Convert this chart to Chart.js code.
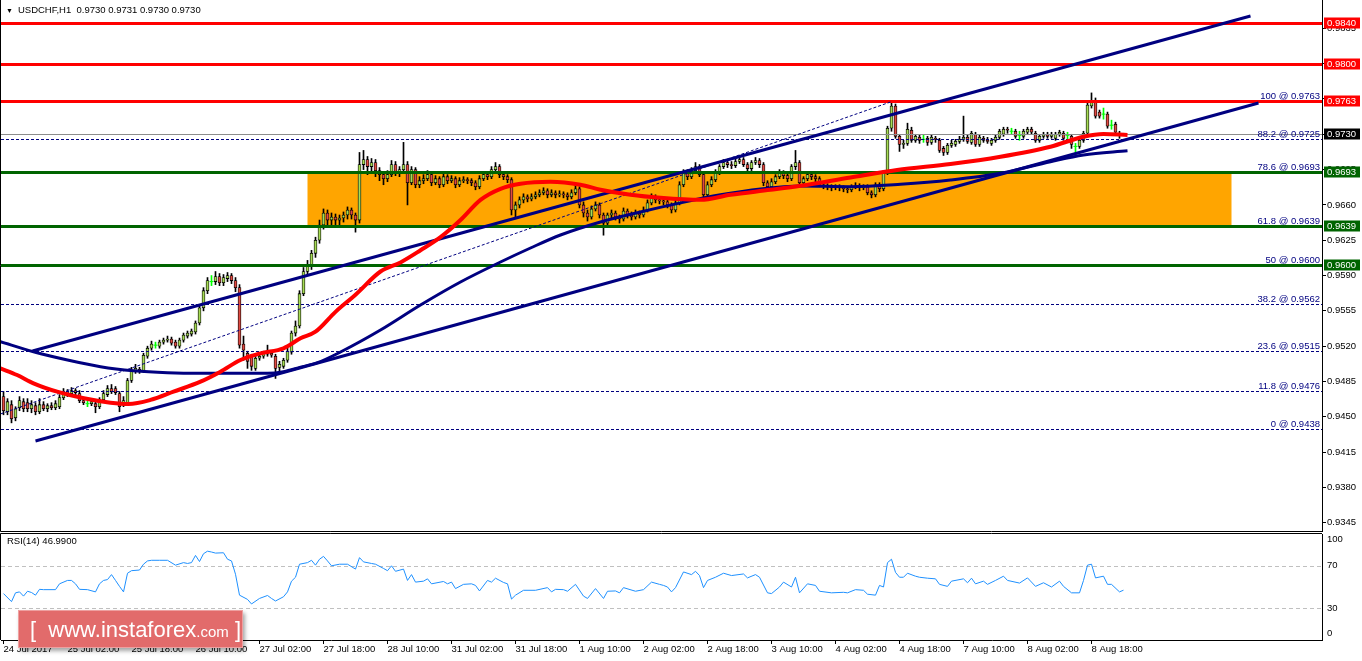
<!DOCTYPE html>
<html>
<head>
<meta charset="utf-8">
<script src="https://cdn.jsdelivr.net/npm/chart.js@4.4.1/dist/chart.umd.min.js"></script>
<style>
  html, body { margin: 0; padding: 0; background: #fff; }
  #wrap { position: relative; width: 1362px; height: 661px; overflow: hidden; font-family: "Liberation Sans", Arial, sans-serif; }
  #price { position: absolute; left: 0; top: 0; }
  #rsi { position: absolute; left: 0; top: 532px; }
  #title { position: absolute; left: 6px; top: 4px; font-size: 9.5px; color: #000; white-space: pre; }
  #title span { font-size: 7px; margin-right: 5px; }
  #watermark {
    position: absolute; left: 18px; top: 610px; width: 225px; height: 38px;
    background: #e26b6b; border: 1px solid #eea0a0; box-shadow: 2px 3px 4px rgba(0,0,0,0.35);
    color: #fff; font-size: 22px; line-height: 38px; white-space: pre; box-sizing: border-box; padding-left: 11px;
  }
  #watermark small { font-size: 15px; }
</style>
</head>
<body>
<div id="wrap">
  <canvas id="price" width="1362" height="532"></canvas>
  <canvas id="rsi" width="1362" height="129"></canvas>
  <div id="title"><span>&#9660;</span>USDCHF,H1  0.9730 0.9731 0.9730 0.9730</div>
  <div id="watermark">[  www.instaforex<small>.com</small> ]</div>
</div>
<script>
// ---------------------------------------------------------------------------
// Data (bar index 0 = 24 Jul 10:00)
// ---------------------------------------------------------------------------
const opens = [
  .9470,.9455,.9462,.9449,.9459,.9465,.9464,.9458,.9461,.9455,
  .9462,.9458,.9461,.9459,.9460,.9469,.9475,.9473,.9476,.9473,
  .9466,.9463,.9463,.9463,.9460,.9467,.9472,.9478,.9478,.9473,
  .9462,.9464,.9486,.9496,.9497,.9496,.9510,.9518,.9521,.9520,
  .9524,.9526,.9527,.9524,.9520,.9526,.9530,.9532,.9534,.9543,
  .9558,.9575,.9584,.9584,.9589,.9583,.9587,.9590,.9585,.9578,
  .9522,.9513,.9510,.9498,.9508,.9510,.9512,.9513,.9510,.9499,
  .9500,.9506,.9514,.9533,.9540,.9572,.9594,.9600,.9612,.9625,
  .9640,.9652,.9645,.9648,.9645,.9647,.9650,.9655,.9650,.9645,
  .9700,.9705,.9698,.9702,.9694,.9690,.9686,.9690,.9700,.9692,
  .9695,.9700,.9682,.9695,.9680,.9684,.9686,.9690,.9682,.9686,
  .9680,.9688,.9684,.9686,.9680,.9684,.9685,.9684,.9682,.9678,
  .9686,.9690,.9688,.9695,.9698,.9690,.9688,.9685,.9655,.9660,
  .9665,.9668,.9666,.9668,.9670,.9672,.9674,.9670,.9672,.9670,
  .9671,.9670,.9668,.9672,.9676,.9660,.9652,.9648,.9656,.9660,
  .9650,.9642,.9650,.9652,.9648,.9646,.9654,.9650,.9648,.9652,
  .9650,.9655,.9662,.9668,.9665,.9664,.9663,.9660,.9655,.9662,
  .9680,.9692,.9688,.9694,.9698,.9690,.9670,.9680,.9685,.9692,
  .9698,.9702,.9700,.9699,.9703,.9705,.9700,.9696,.9702,.9704,
  .9700,.9682,.9678,.9683,.9688,.9692,.9689,.9686,.9698,.9702,
  .9682,.9686,.9690,.9688,.9686,.9680,.9679,.9678,.9677,.9678,
  .9677,.9676,.9675,.9678,.9679,.9677,.9678,.9672,.9670,.9680,
  .9676,.9692,.9736,.9758,.9728,.9720,.9721,.9734,.9724,.9727,
  .9725,.9726,.9722,.9726,.9724,.9716,.9712,.9719,.9720,.9723,
  .9725,.9727,.9722,.9730,.9720,.9726,.9724,.9721,.9724,.9727,
  .9730,.9735,.9733,.9733,.9729,.9728,.9732,.9735,.9731,.9724,
  .9728,.9730,.9728,.9726,.9730,.9731,.9729,.9728,.9718,.9718,
  .9724,.9731,.9758,.9762,.9752,.9750,.9750,.9739,.9740,.9731,.9730
];
const highs = [
  .9475,.9468,.9466,.9460,.9470,.9468,.9468,.9466,.9464,.9468,
  .9465,.9463,.9464,.9466,.9472,.9478,.9477,.9479,.9478,.9476,
  .9468,.9466,.9467,.9465,.9469,.9476,.9481,.9482,.9480,.9475,
  .9470,.9488,.9499,.9502,.9499,.9513,.9520,.9525,.9524,.9526,
  .9528,.9530,.9529,.9526,.9528,.9533,.9535,.9537,.9545,.9561,
  .9578,.9588,.9590,.9594,.9592,.9591,.9593,.9592,.9588,.9581,
  .9530,.9515,.9512,.9510,.9513,.9515,.9521,.9515,.9512,.9505,
  .9508,.9518,.9535,.9545,.9575,.9598,.9605,.9615,.9628,.9645,
  .9656,.9655,.9652,.9651,.9650,.9653,.9658,.9657,.9652,.9712,
  .9714,.9708,.9706,.9705,.9697,.9693,.9694,.9704,.9703,.9698,
  .9722,.9703,.9698,.9697,.9688,.9690,.9694,.9692,.9689,.9688,
  .9691,.9690,.9689,.9688,.9687,.9688,.9687,.9686,.9684,.9689,
  .9693,.9692,.9698,.9702,.9700,.9692,.9690,.9687,.9663,.9668,
  .9671,.9670,.9671,.9673,.9675,.9677,.9676,.9675,.9674,.9674,
  .9673,.9672,.9675,.9680,.9678,.9663,.9655,.9659,.9663,.9662,
  .9652,.9652,.9655,.9654,.9650,.9657,.9656,.9653,.9655,.9654,
  .9658,.9665,.9671,.9670,.9668,.9667,.9665,.9662,.9665,.9683,
  .9695,.9695,.9697,.9702,.9700,.9692,.9683,.9688,.9695,.9700,
  .9705,.9705,.9703,.9706,.9708,.9707,.9702,.9704,.9707,.9706,
  .9702,.9684,.9686,.9690,.9695,.9694,.9691,.9700,.9714,.9704,
  .9688,.9693,.9692,.9690,.9688,.9682,.9681,.9680,.9680,.9680,
  .9679,.9678,.9680,.9682,.9681,.9680,.9680,.9674,.9682,.9682,
  .9694,.9738,.9763,.9760,.9730,.9724,.9741,.9737,.9730,.9729,
  .9729,.9728,.9729,.9728,.9726,.9718,.9721,.9724,.9725,.9728,
  .9748,.9729,.9733,.9732,.9729,.9728,.9727,.9726,.9729,.9735,
  .9737,.9737,.9736,.9735,.9733,.9735,.9737,.9737,.9733,.9730,
  .9732,.9732,.9732,.9732,.9734,.9733,.9732,.9730,.9721,.9726,
  .9733,.9761,.9771,.9766,.9754,.9756,.9752,.9744,.9742,.9733,.9731
];
const lows = [
  .9452,.9452,.9444,.9446,.9456,.9455,.9455,.9454,.9452,.9453,
  .9456,.9455,.9457,.9457,.9458,.9467,.9470,.9470,.9471,.9464,
  .9462,.9460,.9461,.9454,.9458,.9465,.9470,.9473,.9472,.9455,
  .9460,.9462,.9484,.9493,.9493,.9494,.9508,.9516,.9518,.9518,
  .9522,.9524,.9521,.9518,.9518,.9524,.9528,.9530,.9532,.9541,
  .9555,.9572,.9580,.9581,.9580,.9580,.9584,.9582,.9574,.9518,
  .9506,.9498,.9496,.9496,.9506,.9508,.9510,.9509,.9488,.9495,
  .9498,.9504,.9512,.9530,.9538,.9570,.9590,.9596,.9608,.9622,
  .9636,.9640,.9640,.9638,.9640,.9643,.9646,.9646,.9633,.9642,
  .9695,.9690,.9692,.9688,.9684,.9680,.9683,.9688,.9689,.9688,
  .9692,.9660,.9680,.9677,.9677,.9681,.9684,.9679,.9680,.9677,
  .9678,.9681,.9682,.9677,.9678,.9682,.9681,.9679,.9675,.9676,
  .9684,.9685,.9686,.9692,.9687,.9685,.9682,.9650,.9648,.9657,
  .9662,.9663,.9664,.9666,.9668,.9670,.9667,.9668,.9667,.9668,
  .9667,.9665,.9666,.9670,.9657,.9648,.9644,.9646,.9654,.9647,
  .9630,.9640,.9647,.9645,.9642,.9644,.9647,.9645,.9646,.9647,
  .9648,.9653,.9660,.9662,.9661,.9660,.9657,.9652,.9653,.9660,
  .9678,.9685,.9686,.9692,.9688,.9666,.9668,.9678,.9683,.9690,
  .9696,.9697,.9696,.9697,.9701,.9698,.9693,.9694,.9700,.9697,
  .9679,.9674,.9676,.9681,.9686,.9686,.9683,.9684,.9695,.9679,
  .9680,.9684,.9685,.9683,.9678,.9676,.9675,.9674,.9675,.9674,
  .9673,.9672,.9673,.9676,.9674,.9675,.9670,.9667,.9668,.9673,
  .9674,.9690,.9733,.9726,.9713,.9716,.9719,.9722,.9722,.9721,
  .9722,.9719,.9720,.9722,.9712,.9709,.9710,.9717,.9718,.9721,
  .9723,.9721,.9720,.9718,.9718,.9722,.9721,.9719,.9722,.9725,
  .9728,.9731,.9730,.9726,.9724,.9726,.9730,.9730,.9722,.9722,
  .9726,.9726,.9726,.9724,.9728,.9724,.9725,.9716,.9711,.9716,
  .9722,.9729,.9756,.9746,.9746,.9745,.9736,.9735,.9730,.9726,.9730
];
const closes = [
  .9456,.9465,.9448,.9458,.9466,.9458,.9458,.9462,.9455,.9462,
  .9458,.9461,.9459,.9463,.9469,.9475,.9473,.9476,.9474,.9466,
  .9464,.9463,.9465,.9460,.9467,.9473,.9478,.9475,.9474,.9460,
  .9466,.9486,.9496,.9498,.9495,.9511,.9518,.9522,.9521,.9524,
  .9526,.9527,.9523,.9520,.9526,.9531,.9533,.9535,.9543,.9558,
  .9575,.9585,.9584,.9589,.9583,.9588,.9590,.9585,.9578,.9521,
  .9516,.9505,.9500,.9508,.9510,.9513,.9514,.9511,.9498,.9502,
  .9506,.9515,.9533,.9540,.9572,.9594,.9600,.9612,.9625,.9640,
  .9652,.9645,.9648,.9645,.9647,.9650,.9655,.9650,.9645,.9700,
  .9705,.9698,.9702,.9694,.9690,.9686,.9690,.9700,.9692,.9695,
  .9700,.9682,.9695,.9680,.9684,.9686,.9690,.9682,.9686,.9680,
  .9688,.9684,.9686,.9680,.9684,.9685,.9684,.9682,.9678,.9686,
  .9690,.9688,.9695,.9698,.9690,.9688,.9685,.9655,.9660,.9665,
  .9668,.9666,.9668,.9670,.9672,.9674,.9670,.9672,.9670,.9671,
  .9670,.9668,.9672,.9676,.9660,.9652,.9648,.9656,.9660,.9650,
  .9642,.9650,.9652,.9648,.9646,.9654,.9650,.9648,.9652,.9650,
  .9655,.9662,.9668,.9665,.9664,.9663,.9660,.9655,.9662,.9680,
  .9692,.9688,.9694,.9698,.9690,.9670,.9680,.9685,.9692,.9698,
  .9702,.9700,.9699,.9703,.9705,.9700,.9696,.9702,.9704,.9700,
  .9682,.9678,.9683,.9688,.9692,.9689,.9686,.9698,.9702,.9682,
  .9686,.9690,.9688,.9686,.9680,.9679,.9678,.9677,.9678,.9677,
  .9676,.9675,.9678,.9679,.9677,.9678,.9672,.9670,.9680,.9676,
  .9692,.9736,.9758,.9728,.9720,.9721,.9735,.9724,.9728,.9724,
  .9725,.9722,.9727,.9725,.9714,.9712,.9719,.9721,.9723,.9725,
  .9727,.9723,.9731,.9720,.9727,.9724,.9723,.9724,.9727,.9733,
  .9735,.9734,.9733,.9728,.9729,.9733,.9735,.9732,.9724,.9728,
  .9730,.9728,.9730,.9730,.9732,.9726,.9729,.9720,.9718,.9724,
  .9731,.9759,.9762,.9748,.9748,.9750,.9738,.9739,.9732,.9730,.9730
];

// moving averages, sampled along the drawn curves
const redMaIdx = [-0.75, 3.4, 7.5, 13.4, 20.1, 26.75, 31.25, 36.75, 42.5, 49.25, 54.25, 59.25, 64.25, 70, 74.25, 78, 83, 88, 94.25, 99.25, 104.25, 109.25, 114.25, 119.25, 124.25, 129.25, 136.75, 144.25, 149.25, 156.75, 164.25, 174.25, 181.75, 191.75, 199.25, 211.75, 223.4, 236.75, 249.25, 261.75, 270, 275, 281];
const redMaVal = [.94980, .94914, .94832, .94749, .94683, .94640, .94627, .94667, .94749, .94848, .94947, .95063, .95129, .95179, .95278, .95343, .9554, .9571, .9594, .9603, .9615, .9628, .9645, .9665, .9676, .9681, .9683, .9680, .9675, .9670, .9667, .9665, .9670, .9675, .9679, .96872, .96946, .97006, .97078, .97177, .97276, .97303, .97293];
const navyMaIdx = [-0.75, 7.5, 16, 24.25, 32.5, 41, 49.25, 57.5, 66, 70, 74.25, 78.5, 84.25, 94.25, 104.25, 114.25, 124.25, 131.75, 139.25, 149.25, 159.25, 169.25, 179.25, 189.25, 199.25, 211.75, 224.25, 236.75, 249.25, 261.75, 270, 281];
const navyMaVal = [.95244, .95145, .95063, .94997, .94957, .94937, .94931, .94931, .94931, .94947, .94991, .95036, .95142, .95360, .95608, .95836, .96034, .96173, .96302, .96431, .96530, .96620, .96700, .96759, .96788, .96781, .96805, .96847, .96913, .97028, .97095, .97137];

// hand drawn objects
const upperChannel = [{ x: 7.25, y: 0.95152 }, { x: 311.75, y: 0.98472 }];
const lowerChannel = [{ x: 8, y: 0.94260 }, { x: 313.75, y: 0.97610 }];
const fibDiagonal = [{ x: -0.75, y: 0.94528 }, { x: 221.75, y: 0.9762 }];
const fibLevels = [0, 11.8, 23.6, 38.2, 50, 61.8, 78.6, 88.2, 100];
const fibPrices = [0.9438, 0.9476, 0.9515, 0.9562, 0.9600, 0.9639, 0.9693, 0.9725, 0.9763];
const redLevels = [0.9840, 0.9800, 0.9763];
const greenLevels = [0.9693, 0.9639, 0.9600];
const bidPrice = 0.9730;
const zoneFrom = 76, zoneTo = 307, zoneHigh = 0.9693, zoneLow = 0.9639;

// RSI(14), sampled along the drawn line
const rsiIdx = [0, 2, 3, 4, 5, 6, 7, 8, 9, 10, 13, 14, 16, 17, 18, 19, 21, 23, 24, 25, 26, 27, 28, 29, 30, 31, 32, 34, 35, 36, 37, 39, 41, 43, 45, 46, 47, 48, 49, 50, 51, 52, 53, 55, 56, 57, 58, 59, 61, 62, 64, 66, 67, 68, 70, 71, 72, 73, 74, 76, 77, 78, 79, 80, 81, 82, 84, 86, 88, 89, 90, 92, 93, 95, 96, 97, 98, 100, 101, 102, 103, 105, 106, 107, 110, 111, 112, 113, 115, 117, 118, 119, 121, 122, 123, 125, 126, 127, 128, 130, 133, 136, 137, 138, 140, 141, 143, 145, 146, 148, 150, 151, 153, 154, 155, 158, 160, 162, 164, 165, 166, 167, 168, 170, 172, 173, 174, 175, 176, 178, 180, 182, 185, 186, 188, 189, 191, 192, 194, 195, 197, 198, 199, 201, 203, 204, 207, 210, 211, 213, 215, 216, 218, 219, 220, 221, 222, 223, 224, 225, 226, 228, 229, 231, 233, 234, 236, 237, 240, 241, 242, 243, 245, 246, 248, 250, 251, 254, 256, 258, 260, 262, 264, 265, 267, 269, 270, 271, 272, 273, 275, 276, 277, 279, 280];
const rsiVal = [43.8, 36.2, 44.5, 45.4, 41.4, 46, 44.8, 42.3, 47.8, 47.5, 47.5, 53, 56.2, 56.2, 53, 47.8, 47.5, 45.4, 53, 56.2, 57, 61.7, 56.2, 50.6, 45.4, 63, 65.4, 66, 71.5, 74.6, 75.2, 75.2, 75.2, 70.6, 73, 72.2, 73, 79.8, 74, 81.4, 83.8, 83, 82, 82.3, 76.2, 74.6, 62, 42.3, 38.3, 34, 39.2, 42, 39.2, 36.8, 40.8, 45.4, 55.5, 59.2, 71.5, 73, 75.2, 70.6, 76.2, 78.9, 74.6, 70, 71.5, 71.5, 66.9, 77.7, 73.7, 72.2, 71.5, 67.5, 65.4, 70, 64.8, 66.9, 56.2, 61.7, 54.6, 55.5, 57.7, 53, 55.2, 53, 54.6, 48.5, 52.5, 53, 51.5, 46.3, 56.2, 54.6, 58.3, 54.3, 53, 38.6, 42.3, 46.9, 46.9, 49.4, 45.4, 47.8, 47.5, 46, 52.5, 41.4, 39.2, 48.5, 39.2, 46, 46.3, 44.5, 49.4, 46, 47.5, 54.6, 52.5, 51.5, 50, 45.4, 49.4, 64.2, 61.7, 64.8, 60.8, 49.4, 56.2, 59.2, 63, 60.8, 62.3, 58.6, 61.7, 59.2, 44.5, 43.8, 50, 54.6, 50, 59.2, 44.5, 53, 51.5, 46, 44.5, 45, 44.5, 47.5, 46.9, 43.2, 42.3, 51.5, 50, 73, 76.2, 63.8, 59.2, 59.2, 63, 60.2, 59.2, 58.3, 57.7, 52.5, 50.6, 55.5, 57.7, 54, 58.3, 53, 55.5, 52.5, 56.2, 60.2, 56.2, 53.7, 58.6, 50.6, 54, 50, 55.5, 50.6, 44.5, 44.5, 56.2, 70.6, 71.5, 58.6, 60.2, 52.5, 52.5, 45.4, 47.0];
const rsiLevels = [30, 70];
const rsiTicks = [0, 30, 70, 100];

// axes
const priceTicks = [0.9345, 0.9380, 0.9415, 0.9450, 0.9485, 0.9520, 0.9555, 0.9590, 0.9625, 0.9660, 0.9695, 0.9730, 0.9765, 0.9800, 0.9835];
const timeTickIdx = [0, 16, 32, 48, 64, 80, 96, 112, 128, 144, 160, 176, 192, 208, 224, 240, 256, 272];
const timeLabels = ['24 Jul 2017', '25 Jul 02:00', '25 Jul 18:00', '26 Jul 10:00', '27 Jul 02:00', '27 Jul 18:00', '28 Jul 10:00', '31 Jul 02:00', '31 Jul 18:00', '1 Aug 10:00', '2 Aug 02:00', '2 Aug 18:00', '3 Aug 10:00', '4 Aug 02:00', '4 Aug 18:00', '7 Aug 10:00', '8 Aug 02:00', '8 Aug 18:00'];
const priceMin = 0.93368, priceMax = 0.98631;
const xMin = -0.625, xMax = 329.625;

if (![highs, lows, closes].every(a => a.length === opens.length)) console.error('candle arrays differ in length');

// ---------------------------------------------------------------------------
const FONT = { family: '"Liberation Sans", Arial, sans-serif', size: 9.5 };
const BULL = '#a6dc55', BEAR = '#e04a42', DOJI = '#00ff00', NAVY = '#000080';

const bars = opens.map((o, i) => ({ i, o, h: highs[i], l: lows[i], c: closes[i] }));
const wickData = bars.map(b => ({ x: b.i, y: [b.l, b.h] }));
const bodyData = bars.map(b => ({ x: b.i, y: [Math.min(b.o, b.c), Math.max(b.o, b.c)] }));
const dojiData = bars.filter(b => b.o === b.c).map(b => ({ x: b.i, y: b.o }));
const wickColors = bars.map(b => b.o === b.c ? DOJI : '#000');
const bodyColors = bars.map(b => b.c > b.o ? BULL : BEAR);
const toPoints = (xs, ys) => xs.map((x, k) => ({ x, y: ys[k] }));

function hLine(ctx, a, py) {
  ctx.beginPath(); ctx.moveTo(a.left, py); ctx.lineTo(a.right, py); ctx.stroke();
}

const pricePlugin = {
  id: 'pricePlugin',
  beforeDatasetsDraw(chart) {
    const { ctx, chartArea: a, scales: { x, y } } = chart;
    ctx.save();
    ctx.beginPath(); ctx.rect(a.left, a.top, a.right - a.left, a.bottom - a.top); ctx.clip();
    const x0 = x.getPixelForValue(zoneFrom), x1 = x.getPixelForValue(zoneTo);
    const y0 = y.getPixelForValue(zoneHigh), y1 = y.getPixelForValue(zoneLow);
    ctx.fillStyle = '#ffa500';
    ctx.fillRect(x0, y0, x1 - x0, y1 - y0);
    ctx.restore();
  },
  afterDatasetDraw(chart, args) {
    if (chart.data.datasets[args.index].id !== 'doji') return;
    const { ctx, chartArea: a, scales: { y } } = chart;
    ctx.save();
    ctx.beginPath(); ctx.rect(a.left, a.top, a.right - a.left, a.bottom - a.top); ctx.clip();
    ctx.strokeStyle = NAVY; ctx.lineWidth = 1; ctx.setLineDash([3, 2]);
    fibPrices.forEach(p => hLine(ctx, a, Math.round(y.getPixelForValue(p)) + 0.5));
    ctx.setLineDash([]);
    ctx.strokeStyle = '#8c8c8c';
    hLine(ctx, a, Math.round(y.getPixelForValue(bidPrice)) + 0.5);
    ctx.lineWidth = 3;
    ctx.strokeStyle = '#006400';
    greenLevels.forEach(p => hLine(ctx, a, Math.round(y.getPixelForValue(p)) + 0.5));
    ctx.strokeStyle = '#ff0000';
    redLevels.forEach(p => hLine(ctx, a, Math.round(y.getPixelForValue(p)) + 0.5));
    ctx.restore();
  },
  afterDraw(chart) {
    const { ctx, chartArea: a, scales: { y } } = chart;
    ctx.save();
    ctx.font = `${FONT.size}px ${FONT.family}`;
    // fibo captions
    ctx.fillStyle = NAVY; ctx.textAlign = 'right'; ctx.textBaseline = 'alphabetic';
    fibLevels.forEach((lv, k) => {
      const py = y.getPixelForValue(fibPrices[k]);
      ctx.fillText(`${lv} @ ${fibPrices[k].toFixed(4)}`, a.right - 2, py - 2);
    });
    // price tags on the axis
    const tags = [
      ...redLevels.map(p => [p, '#ff0000']),
      [bidPrice, '#000000'],
      ...greenLevels.map(p => [p, '#006400'])
    ];
    ctx.textAlign = 'left'; ctx.textBaseline = 'middle';
    tags.forEach(([p, col]) => {
      const py = Math.round(y.getPixelForValue(p));
      ctx.fillStyle = col;
      ctx.fillRect(a.right + 2, py - 5.5, 36, 11);
      ctx.fillStyle = '#fff';
      ctx.fillText(p.toFixed(4), a.right + 5, py + 0.5);
    });
    // frame
    ctx.strokeStyle = '#000'; ctx.lineWidth = 1;
    ctx.beginPath();
    ctx.moveTo(a.left - 0.5, a.top); ctx.lineTo(a.left - 0.5, a.bottom + 0.5);
    ctx.lineTo(a.right, a.bottom + 0.5);
    ctx.stroke();
    ctx.restore();
  }
};

new Chart(document.getElementById('price'), {
  type: 'bar',
  data: {
    datasets: [
      { type: 'line', id: 'redMa', data: toPoints(redMaIdx, redMaVal), borderColor: '#ff0000', borderWidth: 4, pointRadius: 0, cubicInterpolationMode: 'monotone', order: 1 },
      { type: 'line', id: 'navyMa', data: toPoints(navyMaIdx, navyMaVal), borderColor: NAVY, borderWidth: 3, pointRadius: 0, cubicInterpolationMode: 'monotone', order: 2 },
      { type: 'line', id: 'upper', data: upperChannel, borderColor: NAVY, borderWidth: 3, pointRadius: 0, order: 3 },
      { type: 'line', id: 'lower', data: lowerChannel, borderColor: NAVY, borderWidth: 3, pointRadius: 0, order: 3 },
      { type: 'line', id: 'fibDiag', data: fibDiagonal, borderColor: NAVY, borderWidth: 1, borderDash: [3, 2], pointRadius: 0, order: 4 },
      { type: 'scatter', id: 'doji', data: dojiData, pointStyle: 'line', pointRadius: 2, borderColor: DOJI, borderWidth: 1, order: 8 },
      { id: 'bodies', data: bodyData, backgroundColor: bodyColors, borderColor: '#000', borderWidth: 0.8, borderSkipped: false, barThickness: 3, grouped: false, order: 9 },
      { id: 'wicks', data: wickData, backgroundColor: wickColors, borderWidth: 0, barThickness: 1, grouped: false, order: 10 }
    ]
  },
  options: {
    responsive: false,
    animation: false,
    events: [],
    layout: { autoPadding: false, padding: { left: 1, right: 0, top: 0, bottom: 1 } },
    plugins: { legend: { display: false }, tooltip: { enabled: false } },
    scales: {
      x: { type: 'linear', display: false, min: xMin, max: xMax, offset: false },
      y: {
        type: 'linear', position: 'right', min: priceMin, max: priceMax,
        afterFit: s => { s.width = 40; s.paddingTop = 0; s.paddingBottom = 0; },
        afterBuildTicks: s => { s.ticks = priceTicks.map(v => ({ value: v })); },
        ticks: { callback: v => v.toFixed(4), color: '#000', font: FONT, padding: 1, autoSkip: false },
        grid: { drawOnChartArea: false, drawTicks: true, tickLength: 4, color: '#000' },
        border: { display: true, color: '#000' }
      }
    }
  },
  plugins: [pricePlugin]
});

const rsiPlugin = {
  id: 'rsiPlugin',
  beforeDatasetsDraw(chart) {
    const { ctx, chartArea: a, scales: { y } } = chart;
    ctx.save();
    ctx.strokeStyle = '#c0c0c0'; ctx.lineWidth = 1; ctx.setLineDash([4, 3]);
    rsiLevels.forEach(v => hLine(ctx, a, Math.round(y.getPixelForValue(v)) + 0.5));
    ctx.restore();
  },
  afterDraw(chart) {
    const { ctx, chartArea: a, scales: { y } } = chart;
    ctx.save();
    ctx.strokeStyle = '#000'; ctx.lineWidth = 1;
    ctx.beginPath();
    ctx.moveTo(a.left - 0.5, a.bottom); ctx.lineTo(a.left - 0.5, a.top - 0.5); ctx.lineTo(a.right, a.top - 0.5);
    ctx.stroke();
    ctx.font = `${FONT.size}px ${FONT.family}`;
    ctx.fillStyle = '#000'; ctx.textBaseline = 'middle'; ctx.textAlign = 'left';
    ctx.fillText('RSI(14) 46.9900', a.left + 6, a.top + 7);
    rsiTicks.forEach(v => {
      const py = Math.min(Math.max(y.getPixelForValue(v), a.top + 5.5), a.bottom - 7);
      ctx.fillText(String(v), a.right + 5, py);
    });
    ctx.restore();
  }
};

new Chart(document.getElementById('rsi'), {
  type: 'line',
  data: {
    datasets: [
      { data: toPoints(rsiIdx, rsiVal), borderColor: '#1e90ff', borderWidth: 1, pointRadius: 0, tension: 0 }
    ]
  },
  options: {
    responsive: false,
    animation: false,
    events: [],
    layout: { autoPadding: false, padding: { left: 1, right: 0, top: 2, bottom: 0 } },
    plugins: { legend: { display: false }, tooltip: { enabled: false } },
    scales: {
      x: {
        type: 'linear', min: xMin, max: xMax, offset: false,
        afterFit: s => { s.height = 21; s.paddingLeft = 0; s.paddingRight = 0; },
        afterBuildTicks: s => { s.ticks = timeTickIdx.map(v => ({ value: v })); },
        ticks: { callback: (v, k) => timeLabels[k], align: 'start', maxRotation: 0, autoSkip: false, color: '#000', font: FONT, padding: 0 },
        grid: { drawOnChartArea: false, drawTicks: true, tickLength: 4, color: '#000' },
        border: { display: true, color: '#000' }
      },
      y: {
        type: 'linear', position: 'right', min: 0, max: 100,
        afterFit: s => { s.width = 40; s.paddingTop = 0; s.paddingBottom = 0; },
        ticks: { display: false },
        grid: { display: false },
        border: { display: true, color: '#000' }
      }
    }
  },
  plugins: [rsiPlugin]
});
</script>
</body>
</html>
